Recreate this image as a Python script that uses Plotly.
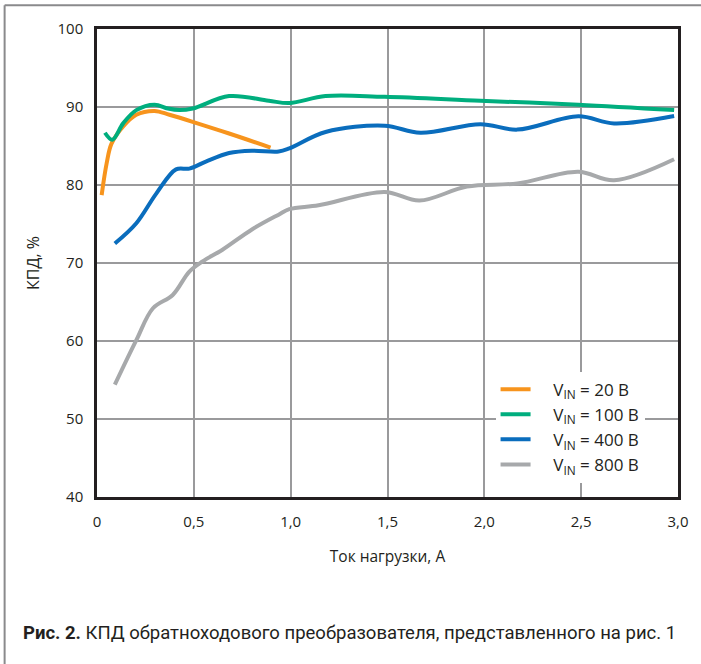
import plotly.graph_objects as go

# Load current, A  /  efficiency, %
x_20 = [0.024, 0.05, 0.075, 0.135, 0.203, 0.297, 0.374, 0.494, 0.682, 0.896]
y_20 = [78.7, 82.8, 85.3, 87.5, 89.0, 89.5, 89.0, 88.1, 86.6, 84.8]

x_100 = [0.041, 0.079, 0.135, 0.203, 0.297, 0.366, 0.426, 0.494, 0.682, 0.887, 0.993, 1.18, 1.485, 1.98, 2.485, 2.98]
y_100 = [86.7, 85.8, 87.9, 89.6, 90.3, 89.8, 89.6, 89.8, 91.4, 90.8, 90.5, 91.4, 91.3, 90.8, 90.3, 89.6]

x_400 = [0.092, 0.203, 0.306, 0.408, 0.477, 0.562, 0.682, 0.8, 0.938, 0.993, 1.18, 1.485, 1.67, 1.98, 2.17, 2.485, 2.67, 2.98]
y_400 = [72.5, 75.1, 78.9, 82.0, 82.1, 83.0, 84.1, 84.4, 84.3, 84.7, 86.8, 87.6, 86.7, 87.8, 87.1, 88.8, 87.9, 88.85]

x_800 = [0.092, 0.203, 0.289, 0.391, 0.477, 0.545, 0.648, 0.8, 0.938, 0.993, 1.144, 1.485, 1.665, 1.91, 2.17, 2.485, 2.67, 2.98]
y_800 = [54.4, 60.1, 64.2, 65.9, 68.9, 70.2, 71.7, 74.3, 76.2, 76.9, 77.4, 79.1, 78.0, 79.8, 80.2, 81.7, 80.6, 83.3]

series_names = ["V<sub>IN</sub>\u00a0= 20 В", "V<sub>IN</sub>\u00a0= 100 В", "V<sub>IN</sub>\u00a0= 400 В", "V<sub>IN</sub>\u00a0= 800 В"]
colors = ["#F7941D", "#00AE7E", "#0A6DBD", "#A7A9AB"]

x_ticks = [0, 0.5, 1.0, 1.5, 2.0, 2.5, 3.0]
x_tick_labels = ["0", "0,5", "1,0", "1,5", "2,0", "2,5", "3,0"]
y_ticks = [40, 50, 60, 70, 80, 90, 100]

fig = go.Figure()
for xs, ys, name, c in zip([x_20, x_100, x_400, x_800], [y_20, y_100, y_400, y_800], series_names, colors):
    fig.add_trace(go.Scatter(x=xs, y=ys, mode="lines", name="\u00a0\u00a0\u00a0\u00a0" + name,
                             line=dict(color=c, width=4, shape="spline", smoothing=1.0)))

tick_font = dict(family="Open Sans", size=15, color="#231F20")
fig.update_layout(
    width=701, height=664,
    margin=dict(l=97, r=19, t=29, b=167),
    paper_bgcolor="white", plot_bgcolor="white",
    showlegend=True,
    legend=dict(x=0.686, y=0.268, xanchor="left", yanchor="top",
                bgcolor="white", font=dict(family="Open Sans", size=17, color="#231F20"),
                tracegroupgap=0, itemwidth=30),
    xaxis=dict(range=[0, 3.0], tickvals=x_ticks, ticktext=x_tick_labels,
               showgrid=True, gridcolor="#9A9A9C", gridwidth=1.5,
               showline=True, linecolor="#231F20", linewidth=2.5, mirror=True,
               ticks="", tickfont=tick_font, ticklabelstandoff=9,
               zeroline=False,
               title=dict(text="Ток нагрузки, А", font=dict(family="Open Sans", size=15.5, color="#231F20"), standoff=22)),
    yaxis=dict(range=[40, 100], tickvals=y_ticks,
               showgrid=True, gridcolor="#9A9A9C", gridwidth=1.5,
               showline=True, linecolor="#231F20", linewidth=2.5, mirror=True,
               ticks="", tickfont=tick_font, ticklabelstandoff=8,
               zeroline=False,
               title=dict(text="КПД, %", font=dict(family="Open Sans", size=16, color="#231F20"), standoff=14)),
)

# outer frame (left and top edges)
fig.add_shape(type="line", xref="paper", yref="paper", x0=-0.159, x1=-0.159, y0=1.051, y1=-0.4,
              line=dict(color="#8A8A8C", width=2))
fig.add_shape(type="line", xref="paper", yref="paper", x0=-0.159, x1=1.04, y0=1.051, y1=1.051,
              line=dict(color="#8A8A8C", width=2))

fig.add_annotation(xref="paper", yref="paper", x=-0.1316, y=-0.291, xanchor="left", yanchor="middle",
                   showarrow=False,
                   text="<b>Рис. 2.</b> КПД обратноходового преобразователя, представленного на рис. 1",
                   font=dict(family="Roboto", size=18.5, color="#231F20"))

fig.write_html("out.html", config={"displayModeBar": False},
               post_script="document.body.style.margin='0';document.body.style.overflow='hidden';")
